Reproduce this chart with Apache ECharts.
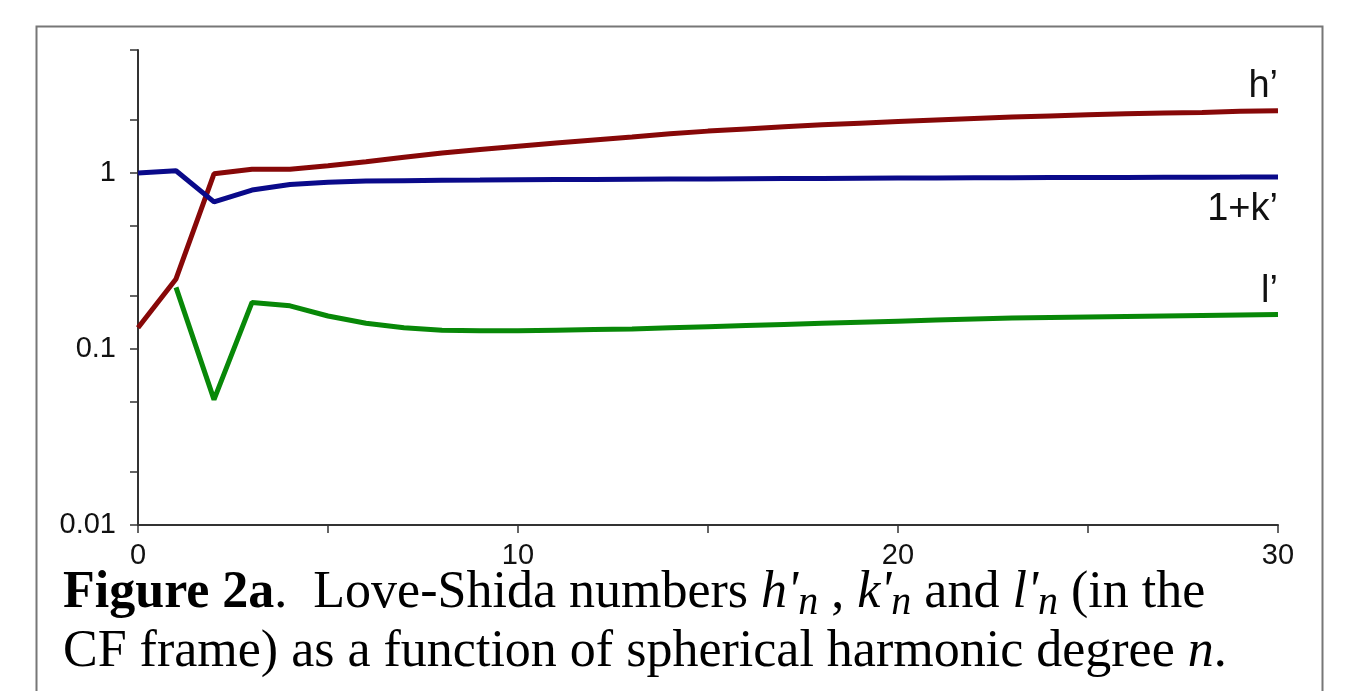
<!DOCTYPE html>
<html>
<head>
<meta charset="utf-8">
<script src="https://cdn.jsdelivr.net/npm/echarts@6/dist/echarts.min.js"></script>
<style>
html,body{margin:0;padding:0;background:#fff;}
#chart{width:1349px;height:691px;}
</style>
</head>
<body>
<div id="chart"></div>
<script>
// Spherical harmonic degree n
const degrees = [0,1,2,3,4,5,6,7,8,9,10,11,12,13,14,15,16,17,18,19,20,21,22,23,24,25,26,27,28,29,30];
// h'
const hPrime = [0.132,0.25,0.99,1.05,1.05,1.10,1.16,1.23,1.30,1.36,1.42,1.48,1.54,1.60,1.67,1.73,1.78,1.83,1.88,1.92,1.96,2.00,2.04,2.08,2.11,2.14,2.17,2.19,2.21,2.24,2.26];
// 1+k'
const onePlusK = [1.0,1.03,0.686,0.80,0.86,0.885,0.90,0.905,0.91,0.912,0.915,0.918,0.92,0.922,0.924,0.926,0.928,0.93,0.932,0.934,0.936,0.938,0.939,0.94,0.942,0.943,0.944,0.946,0.947,0.948,0.95];
// l'
const lPrime = [null,0.224,0.0516,0.184,0.176,0.154,0.140,0.132,0.128,0.127,0.127,0.128,0.129,0.130,0.132,0.134,0.136,0.138,0.140,0.142,0.144,0.146,0.148,0.150,0.151,0.152,0.153,0.154,0.155,0.156,0.157];
const seriesNames = ["h\u2019", "1+k\u2019", "l\u2019"];
const xLabelValues = [0,10,20,30];
const yTickValues = [0.01,0.02,0.05,0.1,0.2,0.5,1,2,5];
const yLabelValues = [0.01,0.1,1];
const yLabelText = {'0.01':'0.01','0.1':'0.1','1':'1'};

function pairs(arr){ return degrees.map((n,i)=>[n, arr[i]]); }

function withEndLabel(arr, pos, dist){
  const d = pairs(arr);
  const last = d.length-1;
  return d.map((p,i)=> i===last ? {value:p, label:{show:true, position:pos, distance:dist, align:'right'}} : p);
}

const axisColor = '#333';
const labelFont = {fontFamily:'Liberation Sans', fontSize:38, color:'#111'};
const chart = echarts.init(document.getElementById('chart'), null, {renderer:'canvas'});
chart.setOption({
  backgroundColor:'#fff',
  animation:false,
  title:{
    left:63, top:564, padding:0,
    text:"{b|Figure 2a}.  Love-Shida numbers {i|h'}{s|n} , {i|k'}{s|n} and {i|l'}{s|n} (in the\nCF frame) as a function of spherical harmonic degree {i|n}.",
    textStyle:{
      fontFamily:'Liberation Serif', fontSize:52, color:'#000', lineHeight:59, fontWeight:'normal',
      rich:{
        b:{fontFamily:'Liberation Serif', fontSize:52, fontWeight:'bold', color:'#000', lineHeight:59},
        i:{fontFamily:'Liberation Serif', fontSize:52, fontStyle:'italic', color:'#000', lineHeight:59},
        s:{fontFamily:'Liberation Serif', fontSize:40, fontStyle:'italic', color:'#000', lineHeight:24, verticalAlign:'bottom'}
      }
    }
  },
  graphic:[{
    type:'rect', left:34, top:24, silent:true,
    shape:{width:1286, height:720},
    style:{fill:'none', stroke:'#777', lineWidth:2}
  }],
  grid:{left:138, right:71, top:50, bottom:166, containLabel:false},
  xAxis:{
    type:'value', min:0, max:30, interval:5,
    axisLine:{show:true, lineStyle:{color:axisColor, width:2}},
    axisTick:{show:true, length:8, lineStyle:{color:axisColor, width:1.5}},
    axisLabel:{customValues:xLabelValues, margin:16, fontFamily:'Liberation Sans', fontSize:29, color:'#111'},
    splitLine:{show:false}
  },
  yAxis:{
    type:'log', logBase:10, min:0.01, max:5,
    axisLine:{show:true, lineStyle:{color:axisColor, width:2}},
    axisTick:{show:true, length:8, customValues:yTickValues, lineStyle:{color:axisColor, width:1.5}},
    axisLabel:{customValues:yLabelValues, margin:22, fontFamily:'Liberation Sans', fontSize:29, color:'#111',
      formatter:function(v){ const k = String(+Number(v).toPrecision(3)); return yLabelText[k] !== undefined ? yLabelText[k] : k; }},
    splitLine:{show:false},
    minorTick:{show:false}
  },
  series:[
    {name:seriesNames[0], type:'line', data:withEndLabel(hPrime,'top',5), showSymbol:true, symbol:'circle', symbolSize:0.1,
      lineStyle:{color:'#870808', width:5}, itemStyle:{color:'#870808'},
      label:Object.assign({show:false, formatter:seriesNames[0]}, labelFont)},
    {name:seriesNames[1], type:'line', data:withEndLabel(onePlusK,'bottom',14), showSymbol:true, symbol:'circle', symbolSize:0.1,
      lineStyle:{color:'#0a0a8a', width:5}, itemStyle:{color:'#0a0a8a'},
      label:Object.assign({show:false, formatter:seriesNames[1]}, labelFont)},
    {name:seriesNames[2], type:'line', data:withEndLabel(lPrime,'top',4), showSymbol:true, symbol:'circle', symbolSize:0.1,
      lineStyle:{color:'#088808', width:5}, itemStyle:{color:'#088808'},
      label:Object.assign({show:false, formatter:seriesNames[2]}, labelFont)}
  ]
});
</script>
</body>
</html>
